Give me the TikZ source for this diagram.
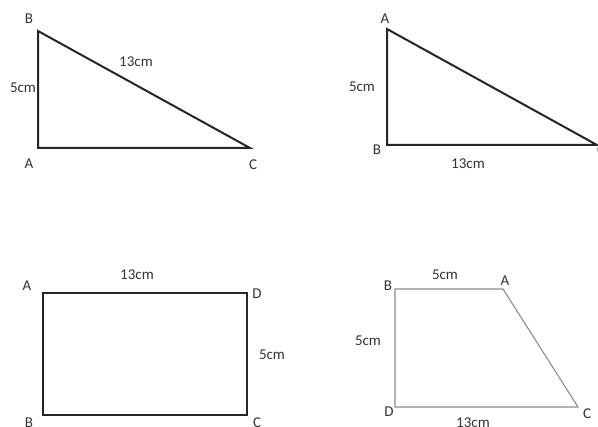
\documentclass[tikz,border=0pt]{standalone}
\usepackage{fontspec}
\setmainfont{Carlito}
\begin{document}
\begin{tikzpicture}[x=1pt,y=-1pt,
    lbl/.style={text=black!80,font=\fontsize{15}{17}\selectfont,inner sep=0pt},
    side/.style={draw=black!85,line width=2pt,line join=miter}]
    \useasboundingbox (0,0) rectangle (598,427);
    % Triangle ABC (hypotenuse 13cm)
    \coordinate (tB) at (38,31);
    \coordinate (tA) at (38,148);
    \coordinate (tC) at (250,148);
    \draw[side] (tB) -- (tA) -- (tC) -- cycle;
    \node[lbl] (tBl) at (29,19) {B};
    \node[lbl] (tAl) at (29,164) {A};
    \node[lbl] (tCl) at (253,165) {C};
    \node[lbl] (tAB) at (23,88) {5cm};
    \node[lbl] (tBC) at (136,62) {13cm};
    % Triangle ABC (base 13cm)
    \coordinate (uA) at (387,29);
    \coordinate (uB) at (387,145);
    \coordinate (uC) at (597,145);
    \draw[side] (uA) -- (uB) -- (uC) -- cycle;
    \node[lbl] (uAl) at (385,19) {A};
    \node[lbl] (uBl) at (377,150) {B};
    \node[lbl] (uCl) at (601,150) {C};
    \node[lbl] (uAB) at (362,87) {5cm};
    \node[lbl] (uBC) at (468,164) {13cm};
    % Rectangle ABCD
    \coordinate (rA) at (43,293);
    \coordinate (rD) at (247,293);
    \coordinate (rC) at (247,415);
    \coordinate (rB) at (43,415);
    \draw[side] (rA) -- (rD) -- (rC) -- (rB) -- cycle;
    \node[lbl] (rAl) at (27,286) {A};
    \node[lbl] (rDl) at (257,294) {D};
    \node[lbl] (rBl) at (29,423) {B};
    \node[lbl] (rCl) at (257,423) {C};
    \node[lbl] (rAD) at (137,275) {13cm};
    \node[lbl] (rDC) at (272,355) {5cm};
    % Trapezium ABCD
    \coordinate (qB) at (395,289);
    \coordinate (qA) at (503,289);
    \coordinate (qC) at (578,407);
    \coordinate (qD) at (395,407);
    \draw[draw=black!45,line width=1.1pt] (qB) -- (qA) -- (qC) -- (qD) -- cycle;
    \node[lbl] (qBl) at (388,286) {B};
    \node[lbl] (qAl) at (505,281) {A};
    \node[lbl] (qDl) at (389,412) {D};
    \node[lbl] (qCl) at (587,414) {C};
    \node[lbl] (qBA) at (445,275) {5cm};
    \node[lbl] (qBD) at (368,341) {5cm};
    \node[lbl] (qDC) at (473,423) {13cm};
\end{tikzpicture}
\end{document}
